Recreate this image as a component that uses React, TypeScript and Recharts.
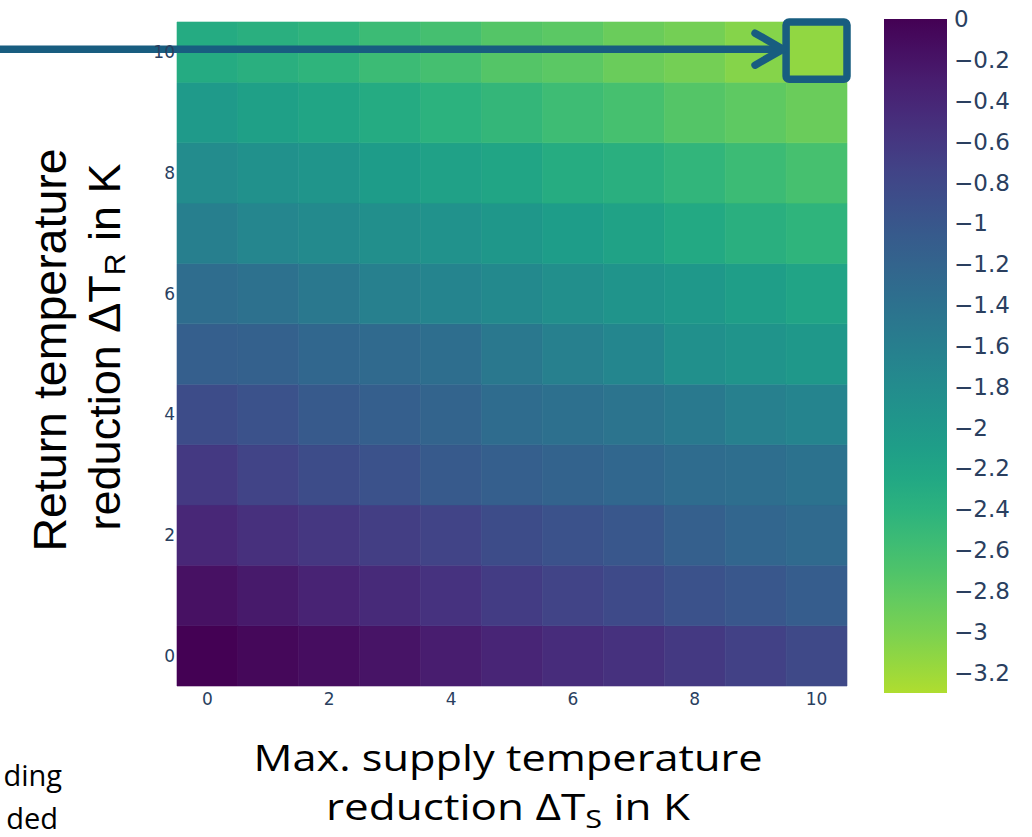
import React from 'react';
import {
  ScatterChart,
  Scatter,
  XAxis,
  YAxis,
  ReferenceArea,
  ReferenceLine,
  ReferenceDot,
} from 'recharts';

// Max. supply temperature reduction ΔT_S (columns) and return temperature reduction ΔT_R (rows)
const supplyReduction = [0, 1, 2, 3, 4, 5, 6, 7, 8, 9, 10];
const returnReduction = [0, 1, 2, 3, 4, 5, 6, 7, 8, 9, 10];

// values for each ΔT_R row, across ΔT_S = 0..10
const rowR0 = [0, -0.07, -0.13, -0.2, -0.3, -0.39, -0.47, -0.53, -0.62, -0.71, -0.82];
const rowR1 = [-0.17, -0.26, -0.36, -0.45, -0.54, -0.66, -0.75, -0.83, -0.94, -1.01, -1.09];
const rowR2 = [-0.41, -0.51, -0.6, -0.68, -0.75, -0.86, -0.94, -1.01, -1.14, -1.22, -1.29];
const rowR3 = [-0.62, -0.75, -0.86, -0.94, -1.05, -1.12, -1.18, -1.24, -1.31, -1.35, -1.41];
const rowR4 = [-0.86, -0.94, -1.05, -1.12, -1.2, -1.31, -1.37, -1.44, -1.52, -1.63, -1.69];
const rowR5 = [-1.12, -1.16, -1.24, -1.29, -1.35, -1.5, -1.63, -1.72, -1.86, -1.93, -2.0];
const rowR6 = [-1.33, -1.39, -1.5, -1.62, -1.69, -1.76, -1.84, -1.93, -1.99, -2.1, -2.18];
const rowR7 = [-1.61, -1.71, -1.78, -1.84, -1.89, -1.97, -2.08, -2.16, -2.27, -2.36, -2.44];
const rowR8 = [-1.8, -1.88, -1.95, -2.06, -2.14, -2.21, -2.31, -2.36, -2.46, -2.55, -2.64];
const rowR9 = [-2.03, -2.12, -2.21, -2.29, -2.4, -2.48, -2.57, -2.64, -2.74, -2.81, -2.89];
const rowR10 = [-2.29, -2.36, -2.44, -2.55, -2.63, -2.74, -2.79, -2.89, -2.96, -3.06, -3.13];
const rows = [rowR0, rowR1, rowR2, rowR3, rowR4, rowR5, rowR6, rowR7, rowR8, rowR9, rowR10];

const axisTicks = [0, 2, 4, 6, 8, 10];
const colorbarTicks = [0, -0.2, -0.4, -0.6, -0.8, -1, -1.2, -1.4, -1.6, -1.8, -2, -2.2, -2.4, -2.6, -2.8, -3, -3.2];
const colorbarDomain = [-3.3, 0];
const colorScaleSpan = 3.75;

const VIR = [
  '#440154', '#471365', '#482475', '#463480', '#414487', '#3b528b', '#355f8d',
  '#2f6c8e', '#2a788e', '#25848e', '#21918c', '#1e9c89', '#22a884', '#2fb47c',
  '#44bf70', '#5ec962', '#7ad151', '#9bd93c', '#bddf26', '#dfe318', '#fde725',
];

function hexToRgb(h: string) {
  return [parseInt(h.slice(1, 3), 16), parseInt(h.slice(3, 5), 16), parseInt(h.slice(5, 7), 16)];
}

function viridis(t: number) {
  const tt = Math.max(0, Math.min(1, t));
  const p = tt * (VIR.length - 1);
  const i = Math.min(VIR.length - 2, Math.floor(p));
  const f = p - i;
  const a = hexToRgb(VIR[i]);
  const b = hexToRgb(VIR[i + 1]);
  const c = a.map((v, k) => Math.round(v + (b[k] - v) * f));
  return `rgb(${c[0]},${c[1]},${c[2]})`;
}

const colorFor = (v: number) => viridis(-v / colorScaleSpan);

const cells = returnReduction.flatMap((y, ri) =>
  supplyReduction.map((x, ci) => ({ x, y, z: rows[ri][ci] }))
);

const tickFont = '"DejaVu Sans", Verdana, sans-serif';
const tickColor = '#2a3f5f';
const annot = '#185d80';
const titleFont = '"Open Sans", Lato, sans-serif';
const yTitleFont = '"Liberation Sans", Arial, sans-serif';

const fmtMinus = (v: number) => (v < 0 ? '\u2212' + String(Math.abs(v)) : String(v));

const Chevron = (props: any) => {
  const { cx, cy } = props;
  if (cx == null || cy == null) return null;
  return (
    <path
      d={`M ${cx - 28} ${cy - 16} L ${cx} ${cy} L ${cx - 28} ${cy + 16}`}
      fill="none"
      stroke={annot}
      strokeWidth={7.5}
      strokeLinecap="round"
      strokeLinejoin="round"
    />
  );
};

const NoShape = () => <g />;

export default function App() {
  const gradStops = Array.from({ length: 23 }, (_, k) => {
    const value = colorbarDomain[1] + (colorbarDomain[0] - colorbarDomain[1]) * (k / 22);
    return { offset: k / 22, color: colorFor(value) };
  });

  return (
    <div style={{ position: 'absolute', left: 0, top: 0, width: 1032, height: 837, background: '#fff', overflow: 'hidden' }}>
      <div style={{ position: 'absolute', left: 0, top: 0 }}>
        <ScatterChart width={1032} height={837} margin={{ top: 22, right: 185, bottom: 121, left: 157 }}>
          <XAxis
            type="number"
            dataKey="x"
            domain={[-0.5, 10.5]}
            ticks={axisTicks}
            allowDataOverflow
            axisLine={false}
            tickLine={false}
            tickSize={0}
            tickMargin={7}
            height={30}
            tick={{ fill: tickColor, fontSize: 17, fontFamily: tickFont }}
          />
          <YAxis
            type="number"
            dataKey="y"
            domain={[-0.5, 10.5]}
            ticks={axisTicks}
            allowDataOverflow
            axisLine={false}
            tickLine={false}
            tickSize={0}
            tickMargin={2}
            width={20}
            tick={{ fill: tickColor, fontSize: 17, fontFamily: tickFont }}
          />
          {cells.map((c) => (
            <ReferenceArea
              key={`c-${c.x}-${c.y}`}
              x1={c.x - 0.5}
              x2={c.x + 0.5}
              y1={c.y - 0.5}
              y2={c.y + 0.5}
              fill={colorFor(c.z)}
              fillOpacity={1}
              stroke={colorFor(c.z)}
              strokeWidth={0.6}
              ifOverflow="visible"
            />
          ))}
          <ReferenceArea
            x1={9.5}
            x2={10.5}
            y1={9.55}
            y2={10.5}
            fill="none"
            fillOpacity={0}
            stroke={annot}
            strokeWidth={7.5}
            radius={3}
            ifOverflow="visible"
          />
          <ReferenceLine
            segment={[{ x: -3.6, y: 10.05 }, { x: 9.42, y: 10.05 }]}
            stroke={annot}
            strokeWidth={7.5}
            ifOverflow="visible"
          />
          <ReferenceDot x={9.45} y={10.05} r={1} shape={Chevron} ifOverflow="visible" />
          <Scatter data={cells} dataKey="y" fill="none" shape={NoShape} isAnimationActive={false} />
        </ScatterChart>
      </div>

      <div style={{ position: 'absolute', left: 884, top: 0 }}>
        <ScatterChart width={148} height={837} margin={{ top: 19, right: 0, bottom: 144, left: 0 }}>
          <defs>
            <linearGradient id="cbGrad" x1="0" y1="0" x2="0" y2="1">
              {gradStops.map((s, i) => (
                <stop key={i} offset={s.offset} stopColor={s.color} />
              ))}
            </linearGradient>
          </defs>
          <XAxis type="number" dataKey="x" domain={[0, 1]} hide />
          <YAxis
            type="number"
            dataKey="y"
            orientation="right"
            domain={colorbarDomain}
            ticks={colorbarTicks}
            allowDataOverflow
            axisLine={false}
            tickLine={false}
            tickSize={0}
            tickMargin={7}
            width={85}
            interval={0}
            tickFormatter={fmtMinus}
            tick={{ fill: tickColor, fontSize: 23, fontFamily: tickFont }}
          />
          <ReferenceArea x1={0} x2={1} y1={colorbarDomain[0]} y2={colorbarDomain[1]} fill="url(#cbGrad)" fillOpacity={1} ifOverflow="visible" />
          <Scatter data={[{ x: 0.5, y: -1 }]} fill="none" shape={NoShape} isAnimationActive={false} />
        </ScatterChart>
      </div>

      <svg width={1032} height={837} style={{ position: 'absolute', left: 0, top: 0, pointerEvents: 'none' }}>
        <g transform="translate(50 350) rotate(-90)">
          <text x={0} y={0} textAnchor="middle" dominantBaseline="central" fontFamily={yTitleFont} fontSize={46.5} fill="#000">
            Return temperature
          </text>
        </g>
        <g transform="translate(104 347) rotate(-90)">
          <text x={0} y={0} textAnchor="middle" dominantBaseline="central" fontFamily={yTitleFont} fontSize={45} fill="#000">
            reduction ΔT<tspan fontSize={30} dy={10}>R</tspan><tspan dy={-10}> in K</tspan>
          </text>
        </g>
        <text x={508} y={771} textAnchor="middle" fontFamily={titleFont} fontSize={36} fill="#000" textLength={509} lengthAdjust="spacingAndGlyphs">
          Max. supply temperature
        </text>
        <text x={508} y={820} textAnchor="middle" fontFamily={titleFont} fontSize={36} fill="#000" textLength={364} lengthAdjust="spacingAndGlyphs">
          reduction ΔT<tspan fontSize={25} dy={8}>S</tspan><tspan dy={-8}> in K</tspan>
        </text>
        <text x={62} y={786} textAnchor="end" fontFamily={titleFont} fontSize={29} fill="#000">
          ding
        </text>
        <text x={58} y={829} textAnchor="end" fontFamily={titleFont} fontSize={29} fill="#000">
          ded
        </text>
      </svg>
    </div>
  );
}
